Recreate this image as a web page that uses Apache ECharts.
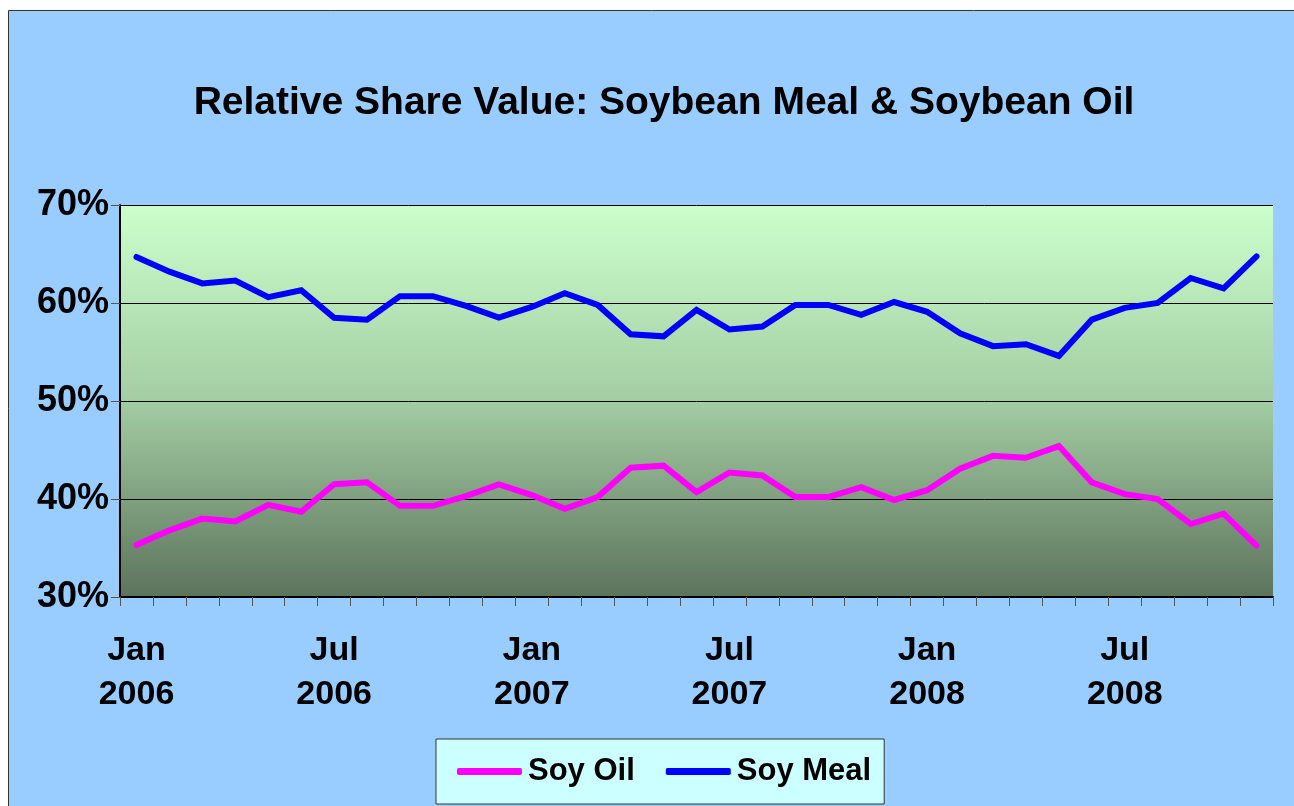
<!DOCTYPE html>
<html>
<head>
<meta charset="utf-8">
<script src="https://cdn.jsdelivr.net/npm/echarts@6/dist/echarts.min.js"></script>
<style>html,body{margin:0;padding:0;background:#fff;}#c{width:1294px;height:806px;}</style>
</head>
<body>
<div id="c"></div>
<script>
const months = ['Jan','Feb','Mar','Apr','May','Jun','Jul','Aug','Sep','Oct','Nov','Dec'];
const categories = [];
for (let y = 2006; y <= 2008; y++) for (let m = 0; m < 12; m++) categories.push(months[m] + '\n' + y);
categories.length = 35; // Jan 2006 .. Nov 2008

const soyMeal = [64.7, 63.2, 62.0, 62.3, 60.6, 61.3, 58.5, 58.3, 60.7, 60.7, 59.7, 58.5,
                 59.6, 61.0, 59.8, 56.8, 56.6, 59.3, 57.3, 57.6, 59.8, 59.8, 58.8, 60.1,
                 59.1, 56.9, 55.6, 55.8, 54.6, 58.3, 59.5, 60.0, 62.55, 61.5, 64.75];
const soyOil  = [35.3, 36.8, 38.0, 37.7, 39.4, 38.7, 41.5, 41.7, 39.3, 39.3, 40.3, 41.5,
                 40.4, 39.0, 40.2, 43.2, 43.4, 40.7, 42.7, 42.4, 40.2, 40.2, 41.2, 39.9,
                 40.9, 43.1, 44.4, 44.2, 45.4, 41.7, 40.5, 40.0, 37.45, 38.5, 35.25];
const yTicks = [30, 40, 50, 60, 70];

const FONT = '"Liberation Sans", Arial, sans-serif';
const chart = echarts.init(document.getElementById('c'), null, {renderer: 'canvas'});
chart.setOption({
  backgroundColor: '#ffffff',
  animation: false,
  graphic: [{
    type: 'rect', z: -10, silent: true,
    shape: {x: 8.5, y: 10.5, width: 1300, height: 820},
    style: {fill: '#99CCFF', stroke: '#333333', lineWidth: 1}
  }],
  title: {
    text: 'Relative Share Value: Soybean Meal & Soybean Oil',
    left: 659, top: 79, textAlign: 'center',
    textStyle: {fontFamily: FONT, fontWeight: 'bold', fontSize: 39, color: '#000'}
  },
  legend: {
    left: 436, top: 739,
    padding: [17, 13, 17, 21],
    backgroundColor: '#CCFFFF',
    borderColor: '#333333', borderWidth: 1,
    itemWidth: 65, itemHeight: 7, itemGap: 31,
    icon: 'roundRect',
    textStyle: {fontFamily: FONT, fontWeight: 'bold', fontSize: 31, color: '#000', padding: [0, 0, 0, 1]},
    data: ['Soy Oil', 'Soy Meal']
  },
  grid: {left: 120, right: 21, top: 205, bottom: 209, containLabel: false,
    show: true, borderWidth: 0,
    backgroundColor: {type: 'linear', x: 0, y: 0, x2: 0, y2: 1,
      colorStops: [{offset: 0, color: '#CCFFCC'}, {offset: 0.5, color: '#A3CDA3'}, {offset: 1, color: '#5C735C'}]}
  },
  xAxis: {
    type: 'category', data: categories, boundaryGap: true,
    axisLine: {lineStyle: {color: '#000', width: 2}},
    axisTick: {show: true, interval: 0, length: 9, lineStyle: {color: '#555', width: 1}},
    axisLabel: {interval: 5, margin: 32, color: '#000', fontFamily: FONT, fontWeight: 'bold', fontSize: 34, lineHeight: 44},
    splitLine: {show: false}
  },
  yAxis: {
    type: 'value', min: 30, max: 70, interval: 10,
    axisLine: {show: true, lineStyle: {color: '#000', width: 2}},
    axisTick: {show: true, length: 9, lineStyle: {color: '#555', width: 1}},
    axisLabel: {margin: 11, color: '#000', fontFamily: FONT, fontWeight: 'bold', fontSize: 36,
      padding: [6, 0, 0, 0],
      formatter: v => yTicks.includes(v) ? v + '%' : ''},
    splitLine: {show: true, lineStyle: {color: '#000', width: 1}}
  },
  series: [
    {name: 'Soy Oil', type: 'line', data: soyOil, showSymbol: false, symbol: 'none',
      lineStyle: {color: '#FF00FF', width: 6, cap: 'round', join: 'miter'}, itemStyle: {color: '#FF00FF'}},
    {name: 'Soy Meal', type: 'line', data: soyMeal, showSymbol: false, symbol: 'none',
      lineStyle: {color: '#0000FF', width: 6, cap: 'round', join: 'miter'}, itemStyle: {color: '#0000FF'}}
  ]
});
</script>
</body>
</html>
